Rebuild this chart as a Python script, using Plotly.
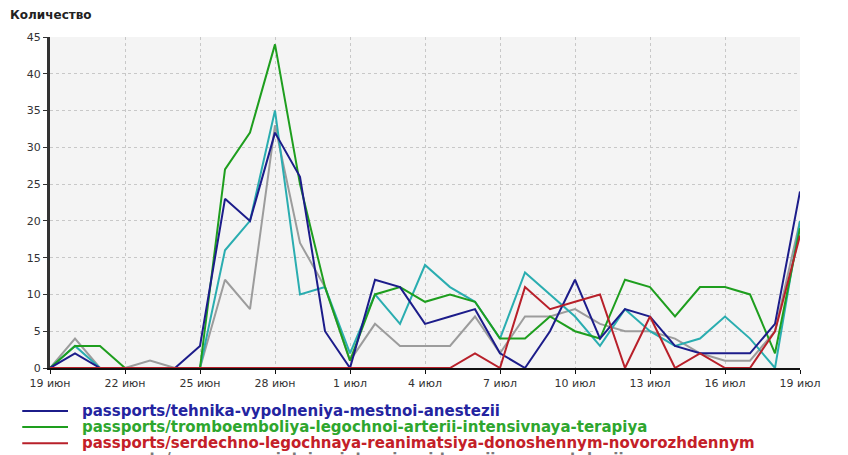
import pandas as pd
import plotly.graph_objects as go

dates = pd.date_range("2012-06-19", "2012-07-19", freq="D")

series_names = [
    "passports/tehnika-vypolneniya-mestnoi-anestezii",
    "passports/tromboemboliya-legochnoi-arterii-intensivnaya-terapiya",
    "passports/serdechno-legochnaya-reanimatsiya-donoshennym-novorozhdennym",
    "passports/osnovnye-printsipy-intensivnoi-terapii-v-neonatologii",
    "passports/bazovaya-serdechno-legochnaya-reanimatsiya",
]
navy = [0, 2, 0, 0, 0, 0, 3, 23, 20, 32, 26, 5, 0, 12, 11, 6, 7, 8, 2, 0, 5, 12, 4, 8, 7, 3, 2, 2, 2, 6, 24]
green = [0, 3, 3, 0, 0, 0, 0, 27, 32, 44, 25, 11, 1, 10, 11, 9, 10, 9, 4, 4, 7, 5, 4, 12, 11, 7, 11, 11, 10, 2, 19]
red = [0, 0, 0, 0, 0, 0, 0, 0, 0, 0, 0, 0, 0, 0, 0, 0, 0, 2, 0, 11, 8, 9, 10, 0, 7, 0, 2, 0, 0, 5, 18]
teal = [0, 3, 0, 0, 0, 0, 0, 16, 20, 35, 10, 11, 2, 10, 6, 14, 11, 9, 4, 13, 10, 7, 3, 8, 5, 3, 4, 7, 4, 0, 20]
gray = [0, 4, 0, 0, 1, 0, 0, 12, 8, 33, 17, 11, 1, 6, 3, 3, 3, 7, 2, 7, 7, 8, 6, 5, 5, 4, 2, 1, 1, 5, 20]

tick_dates = pd.date_range("2012-06-19", "2012-07-19", freq="3D")
tick_labels = ["19 июн", "22 июн", "25 июн", "28 июн", "1 июл", "4 июл",
               "7 июл", "10 июл", "13 июл", "16 июл", "19 июл"]

line_colors = ["#1c1c8a", "#1e9e1e", "#b8202a", "#2aadb0", "#9c9c9c"]
text_colors = ["#2424a0", "#2ea62e", "#c42028", "#7a7a7a", "#7a7a7a"]
values = [navy, green, red, teal, gray]

fig = go.Figure()
draw_order = [4, 3, 1, 0, 2]
for i in draw_order:
    fig.add_trace(go.Scatter(x=dates, y=values[i], mode="lines", name=series_names[i],
                             line=dict(color=line_colors[i], width=2), showlegend=False))

# custom legend (lines + coloured bold text), last row partly cut by the bottom edge
row_y = [-0.130, -0.178, -0.227, -0.275]
annotations = []
shapes = []
for k in range(4):
    shapes.append(dict(type="line", xref="paper", yref="paper",
                       x0=-0.037, x1=0.024, y0=row_y[k], y1=row_y[k],
                       line=dict(color=line_colors[k], width=2)))
    annotations.append(dict(text="<b>" + series_names[k] + "</b>", xref="paper", yref="paper",
                            x=0.04, y=row_y[k], xanchor="left", yanchor="middle",
                            showarrow=False,
                            font=dict(family="DejaVu Sans", size=15, color=text_colors[k])))
annotations.append(dict(text="<b>Количество</b>", xref="paper", yref="paper",
                        x=-0.056, y=1.066, xanchor="left", yanchor="middle", showarrow=False,
                        font=dict(family="DejaVu Sans", size=12, color="#222222")))

# page body has an 8px margin: figure sits at (8,8) in the window
fig.update_layout(
    width=840, height=447,
    margin=dict(l=42, r=48, t=29, b=87),
    paper_bgcolor="white",
    plot_bgcolor="#f4f4f4",
    annotations=annotations,
    shapes=shapes,
    font=dict(family="DejaVu Sans", size=11, color="#333333"),
)
fig.update_xaxes(
    range=[dates[0], dates[-1]],
    tickvals=list(tick_dates), ticktext=tick_labels,
    showgrid=True, gridcolor="#c8c8c8", griddash="dot", gridwidth=1,
    showline=True, linecolor="#111111", linewidth=2,
    ticks="outside", ticklen=4, tickcolor="#111111",
    tickfont=dict(size=11, color="#333333"),
    zeroline=False,
)
fig.update_yaxes(
    range=[0, 45], tickvals=[0, 5, 10, 15, 20, 25, 30, 35, 40, 45],
    showgrid=True, gridcolor="#c8c8c8", griddash="dot", gridwidth=1,
    showline=True, linecolor="#333333", linewidth=3,
    ticks="outside", ticklen=4, tickcolor="#333333",
    tickfont=dict(size=11, color="#333333"),
    zeroline=False,
)
fig.write_html("out.html")
